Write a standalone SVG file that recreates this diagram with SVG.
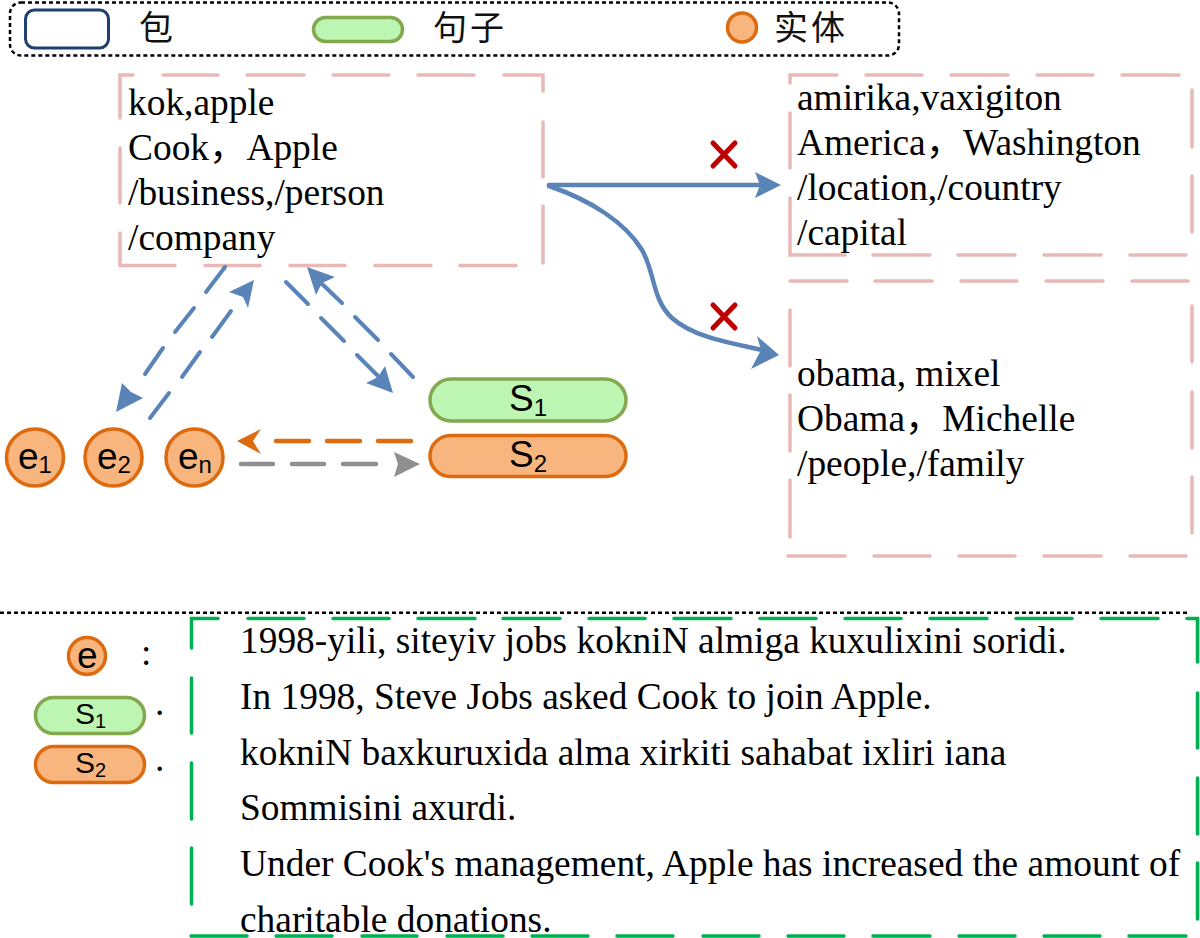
<svg xmlns="http://www.w3.org/2000/svg" width="1200" height="938" viewBox="0 0 1200 938">
<style>
.t{font-family:"Liberation Serif","Noto Sans CJK SC",serif;font-size:37.400px;fill:#000}
.c{font-family:"Noto Sans CJK SC","Liberation Serif",serif;font-size:34px;letter-spacing:3px;fill:#111}
.a{font-family:"Liberation Sans",Arial,sans-serif;fill:#000}
.big{font-size:37px}.bigs{font-size:24px}
.mid{font-size:30px}.mids{font-size:20px}
.pink{fill:none;stroke:#e8b9b7;stroke-width:3.500;stroke-linecap:round}
.green{fill:none;stroke:#00b050;stroke-width:3.500;stroke-linecap:round}
.o{fill:#f8b57e;stroke:#dd6a0f;stroke-width:3.500}
.g{fill:#bdf5b3;stroke:#84a84e;stroke-width:3.500}
.bl{fill:none;stroke:#5a84b8;stroke-width:4.500;stroke-linecap:round}
.bd{fill:none;stroke:#5a84b8;stroke-width:4;stroke-linecap:round}
.bh{fill:#5a84b8}
.dot{fill:none;stroke:#000;stroke-width:2.500;stroke-dasharray:4 3}
.x{fill:none;stroke:#c00000;stroke-width:5;stroke-linecap:round}
</style>
<g id="legend">
<rect class="dot" x="10" y="2.500" width="889" height="53" rx="11"/>
<rect x="25.500" y="10" width="83" height="38" rx="9" fill="#fff" stroke="#1f3f6e" stroke-width="3"/>
<text class="c" x="139" y="40">包</text>
<rect class="g" x="313.500" y="17.500" width="89" height="24" rx="12"/>
<text class="c" x="433" y="40">句子</text>
<circle class="o" cx="742" cy="27.500" r="14.500"/>
<text class="c" x="774" y="40">实体</text>
</g>
<g id="bag1">
<path class="pink" d="M120 118V75H133M163 75H218M247 75H304M333 75H389M418 75H474M504 75H543V91M543 122V177M543 206V263M120 148V203M120 233V265.500H175M205 265.500H260M290 265.500H345M375 265.500H431M460 265.500H516"/>
<text class="t" x="128" y="114.500">kok,apple</text>
<text class="t" x="128" y="159.500">Cook，Apple</text>
<text class="t" x="128" y="204.500">/business,/person</text>
<text class="t" x="128" y="249.500">/company</text>
</g>
<g id="bag2">
<path class="pink" d="M790 83V75H837M866 75H922M951 75H1008M1037 75H1093M1122 75H1179M1192 90V147M1192 176V232M790 113V168M790 198V255H845M873 255H930M958 255H1015M1044 255H1101M1130 255H1186"/>
<text class="t" x="797" y="109.500">amirika,vaxigiton</text>
<text class="t" x="797" y="154.500">America，Washington</text>
<text class="t" x="797" y="199.500">/location,/country</text>
<text class="t" x="797" y="244.500">/capital</text>
</g>
<g id="bag3">
<path class="pink" d="M790 281H847M875 281H932M961 281H1017M1046 281H1103M1132 281H1188M790 310V366M790 395V451M790 480V537M1192 306V362M1192 392V448M1192 477V533M788 556H845M874 556H930M959 556H1015M1044 556H1101M1130 556H1186"/>
<text class="t" x="797" y="386">obama, mixel</text>
<text class="t" x="797" y="431">Obama，Michelle</text>
<text class="t" x="797" y="476">/people,/family</text>
</g>
<g id="e1"><circle class="o" cx="35" cy="457.500" r="28.500"/><text class="a big" x="18" y="469">e<tspan class="bigs" dy="4">1</tspan></text></g>
<g id="e2"><circle class="o" cx="113.500" cy="457.500" r="28.500"/><text class="a big" x="97" y="469">e<tspan class="bigs" dy="4">2</tspan></text></g>
<g id="en"><circle class="o" cx="194.500" cy="457.500" r="28.500"/><text class="a big" x="178" y="469">e<tspan class="bigs" dy="4">n</tspan></text></g>
<g id="s1"><rect class="g" x="430" y="379" width="196" height="42" rx="21"/><text class="a big" x="509" y="411">S<tspan class="bigs" dy="5">1</tspan></text></g>
<g id="s2"><rect class="o" x="430" y="435.500" width="196" height="41" rx="20.500"/><text class="a big" x="509" y="467">S<tspan class="bigs" dy="5">2</tspan></text></g>
<g id="connectors">
<path class="bl" d="M549 185H762"/>
<path class="bh" d="M781 185L755 172L760 185L755 198Z"/>
<path class="bl" d="M549 186C590 200 625 222 642 250C655 272 652 300 672 318C692 336 725 342 762 350"/>
<path class="bh" d="M779 355L757 336L761 350L751 369Z"/>
<path class="bd" d="M225 267L206 292M194 308L175 332M163 348L145 374"/>
<path class="bh" d="M116 412L122 383L131 392L143 398Z"/>
<path class="bd" d="M150 418L169 393M182 377L200 352M212 337L231 311"/>
<path class="bh" d="M254 280L229 292L243 297L248 308Z"/>
<path class="bd" d="M286 282L308 304M321 318L344 341M357 355L382 380"/>
<path class="bh" d="M393 393L366 383L378 377L385 366Z"/>
<path class="bd" d="M413 377L391 354M378 340L355 317M342 303L320 282"/>
<path class="bh" d="M307 267L335 277L322 283L316 295Z"/>
<path fill="none" stroke="#dd6a0f" stroke-width="4.500" stroke-linecap="round" d="M411 441H378M360 441H327M309 441H276"/>
<path fill="#dd6a0f" d="M237 441L261 429L253 441L261 454Z"/>
<path fill="none" stroke="#8f8f8f" stroke-width="4.500" stroke-linecap="round" d="M241 464H273M292 464H324M343 464H376"/>
<path fill="#8f8f8f" d="M420 464L394 452L398 464L394 477Z"/>
<path class="x" d="M713 143L735 166M735 143L713 166"/>
<path class="x" d="M713 305L735 328M735 305L713 328"/>
</g>
<g id="divider"><path class="dot" d="M0 612.700H1190"/></g>
<g id="key">
<circle class="o" cx="87" cy="656" r="18.500"/><text class="a big" x="77" y="668">e</text>
<text class="t" x="141" y="665">:</text>
<rect class="g" x="35.500" y="697.500" width="109" height="36" rx="18"/><text class="a mid" x="75" y="724">S<tspan class="mids" dy="4">1</tspan></text>
<text class="t" x="155" y="715">.</text>
<rect class="o" x="35.500" y="746.500" width="109" height="36" rx="18"/><text class="a mid" x="75" y="773">S<tspan class="mids" dy="4">2</tspan></text>
<text class="t" x="155" y="771">.</text>
</g>
<g id="sentences">
<path class="green" d="M191.500 648V618.500H218M248 618.500H304M333 618.500H389M418 618.500H475M503 618.500H560M589 618.500H645M674 618.500H731M760 618.500H816M845 618.500H901M930 618.500H987M1016 618.500H1072M1101 618.500H1158M1187 618.500H1197.500V662M1197.500 693V748M1197.500 778V834M1197.500 863V919M191.500 678V733M191.500 763V819M191.500 848V904M191 936H247M276 936H332M362 936H417M447 936H503M532 936H588M617 936H673M703 936H759M788 936H844M873 936H930M959 936H1015M1044 936H1100M1129 936H1186"/>
<text class="t" x="240" y="653">1998-yili, siteyiv jobs kokniN almiga kuxulixini soridi.</text>
<text class="t" x="240" y="708.500">In 1998, Steve Jobs asked Cook to join Apple.</text>
<text class="t" x="240" y="764.500">kokniN baxkuruxida alma xirkiti sahabat ixliri iana</text>
<text class="t" x="240" y="820">Sommisini axurdi.</text>
<text class="t" x="240" y="876">Under Cook's management, Apple has increased the amount of</text>
<text class="t" x="240" y="931.500">charitable donations.</text>
</g>
</svg>
